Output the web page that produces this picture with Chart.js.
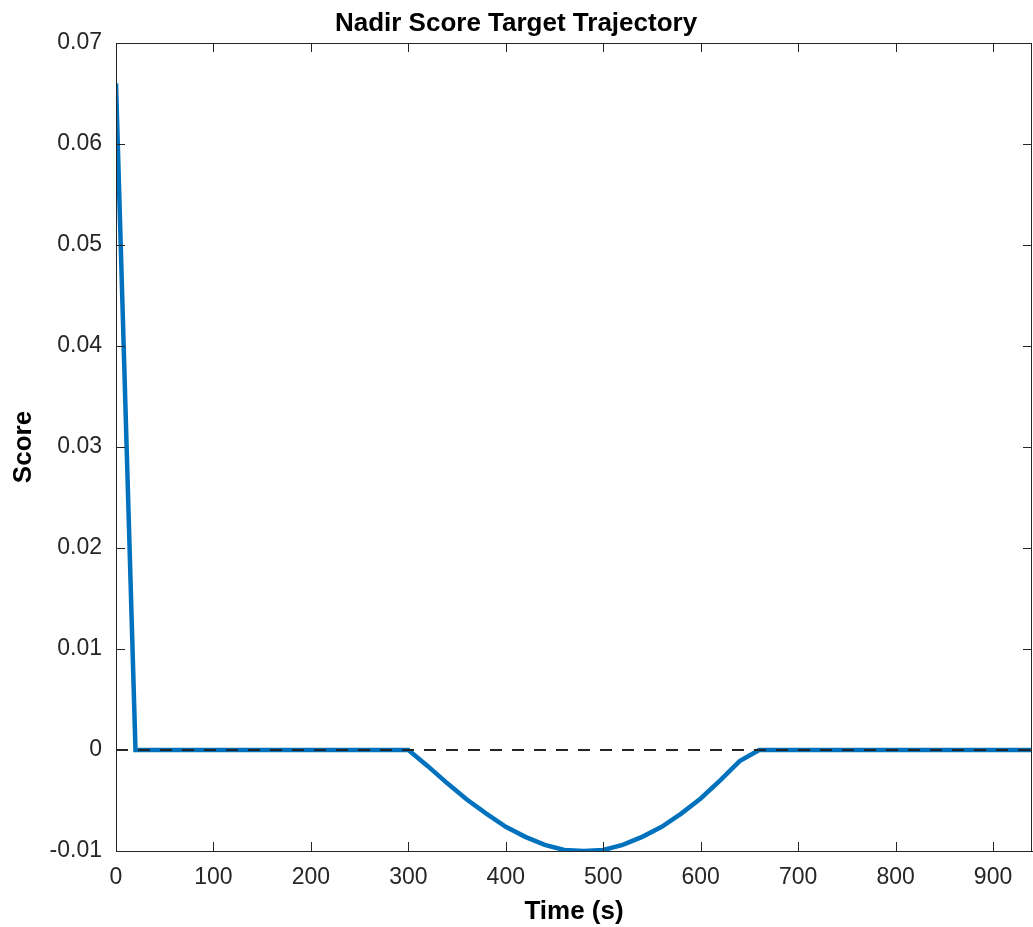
<!DOCTYPE html>
<html>
<head>
<meta charset="utf-8">
<script src="https://cdn.jsdelivr.net/npm/chart.js@4"></script>
<style>
  html, body { margin: 0; padding: 0; background: #fff; }
  #wrap { width: 1033px; height: 927px; }
</style>
</head>
<body>
<div id="wrap"><canvas id="c"></canvas></div>
<script>
const times = [0, 20, 40, 60, 80, 100, 120, 140, 160, 180, 200, 220, 240, 260, 280, 300,
  320, 340, 360, 380, 400, 420, 440, 460, 480, 500, 520, 540, 560, 580, 600, 620, 640, 660,
  680, 700, 720, 740, 760, 780, 800, 820, 840, 860, 880, 900, 920, 940];
const scores = [0.066, 0, 0, 0, 0, 0, 0, 0, 0, 0, 0, 0, 0, 0, 0, 0,
  -0.0016, -0.0033, -0.0049, -0.0063, -0.0076, -0.0086, -0.0094, -0.0099, -0.0100,
  -0.0099, -0.0094, -0.0086, -0.0076, -0.0063, -0.0048, -0.0030, -0.0011, 0,
  0, 0, 0, 0, 0, 0, 0, 0, 0, 0, 0, 0, 0, 0];
const refX = [0, 940];
const refY = [0, 0];

const AXIS = '#262626';
const FONT = "'Liberation Sans', Arial, Helvetica, sans-serif";

// MATLAB-style box with inward ticks on all four sides
const boxTicks = {
  id: 'boxTicks',
  afterDraw(chart) {
    const { ctx, chartArea: a, scales } = chart;
    const len = 9;
    ctx.save();
    ctx.strokeStyle = AXIS;
    ctx.lineWidth = 1;
    ctx.beginPath();
    scales.x.ticks.forEach(t => {
      const px = Math.round(scales.x.getPixelForValue(t.value)) + 0.5;
      ctx.moveTo(px, a.bottom); ctx.lineTo(px, a.bottom - len);
      ctx.moveTo(px, a.top); ctx.lineTo(px, a.top + len);
    });
    scales.y.ticks.forEach(t => {
      const py = Math.round(scales.y.getPixelForValue(t.value)) + 0.5;
      ctx.moveTo(a.left, py); ctx.lineTo(a.left + len, py);
      ctx.moveTo(a.right, py); ctx.lineTo(a.right - len, py);
    });
    ctx.stroke();
    ctx.strokeRect(Math.round(a.left) + 0.5, Math.round(a.top) + 0.5,
      Math.round(a.right - a.left) - 1, Math.round(a.bottom - a.top));
    ctx.restore();
  }
};

new Chart(document.getElementById('c'), {
  type: 'line',
  data: {
    datasets: [
      {
        data: refX.map((x, i) => ({ x, y: refY[i] })),
        borderColor: '#262626',
        borderWidth: 2,
        borderDash: [12, 10],
        pointRadius: 0,
        tension: 0
      },
      {
        data: times.map((x, i) => ({ x, y: scores[i] })),
        borderColor: '#0072BD',
        borderWidth: 4.5,
        pointRadius: 0,
        tension: 0
      }
    ]
  },
  options: {
    responsive: true,
    maintainAspectRatio: false,
    animation: false,
    layout: { padding: { left: 0, right: 1, top: 0, bottom: 0 } },
    plugins: {
      legend: { display: false },
      tooltip: { enabled: false },
      title: {
        display: true,
        text: 'Nadir Score Target Trajectory',
        color: '#000',
        font: { family: FONT, size: 26, weight: 'bold' },
        padding: { top: 8, bottom: 3.8 }
      }
    },
    scales: {
      x: {
        type: 'linear',
        min: 0,
        max: 940,
        grid: { display: false, drawTicks: false },
        border: { display: true, color: AXIS },
        ticks: {
          stepSize: 100,
          includeBounds: false,
          maxRotation: 0,
          autoSkip: false,
          padding: 13,
          color: AXIS,
          font: { family: FONT, size: 23 }
        },
        title: {
          display: true,
          text: 'Time (s)',
          color: '#000',
          font: { family: FONT, size: 26, weight: 'bold' },
          padding: { top: 0, bottom: 0 }
        },
        afterFit(s) { s.height = 76; }
      },
      y: {
        min: -0.01,
        max: 0.07,
        grid: { display: false, drawTicks: false },
        border: { display: true, color: AXIS },
        ticks: {
          stepSize: 0.01,
          padding: 14,
          color: AXIS,
          font: { family: FONT, size: 23 },
          callback: v => String(Number(v.toFixed(2)))
        },
        title: {
          display: true,
          text: 'Score',
          color: '#000',
          font: { family: FONT, size: 26, weight: 'bold' },
          padding: { top: 8.5, bottom: 0 }
        },
        afterFit(s) { s.width = 116; }
      }
    }
  },
  plugins: [boxTicks]
});
</script>
</body>
</html>
